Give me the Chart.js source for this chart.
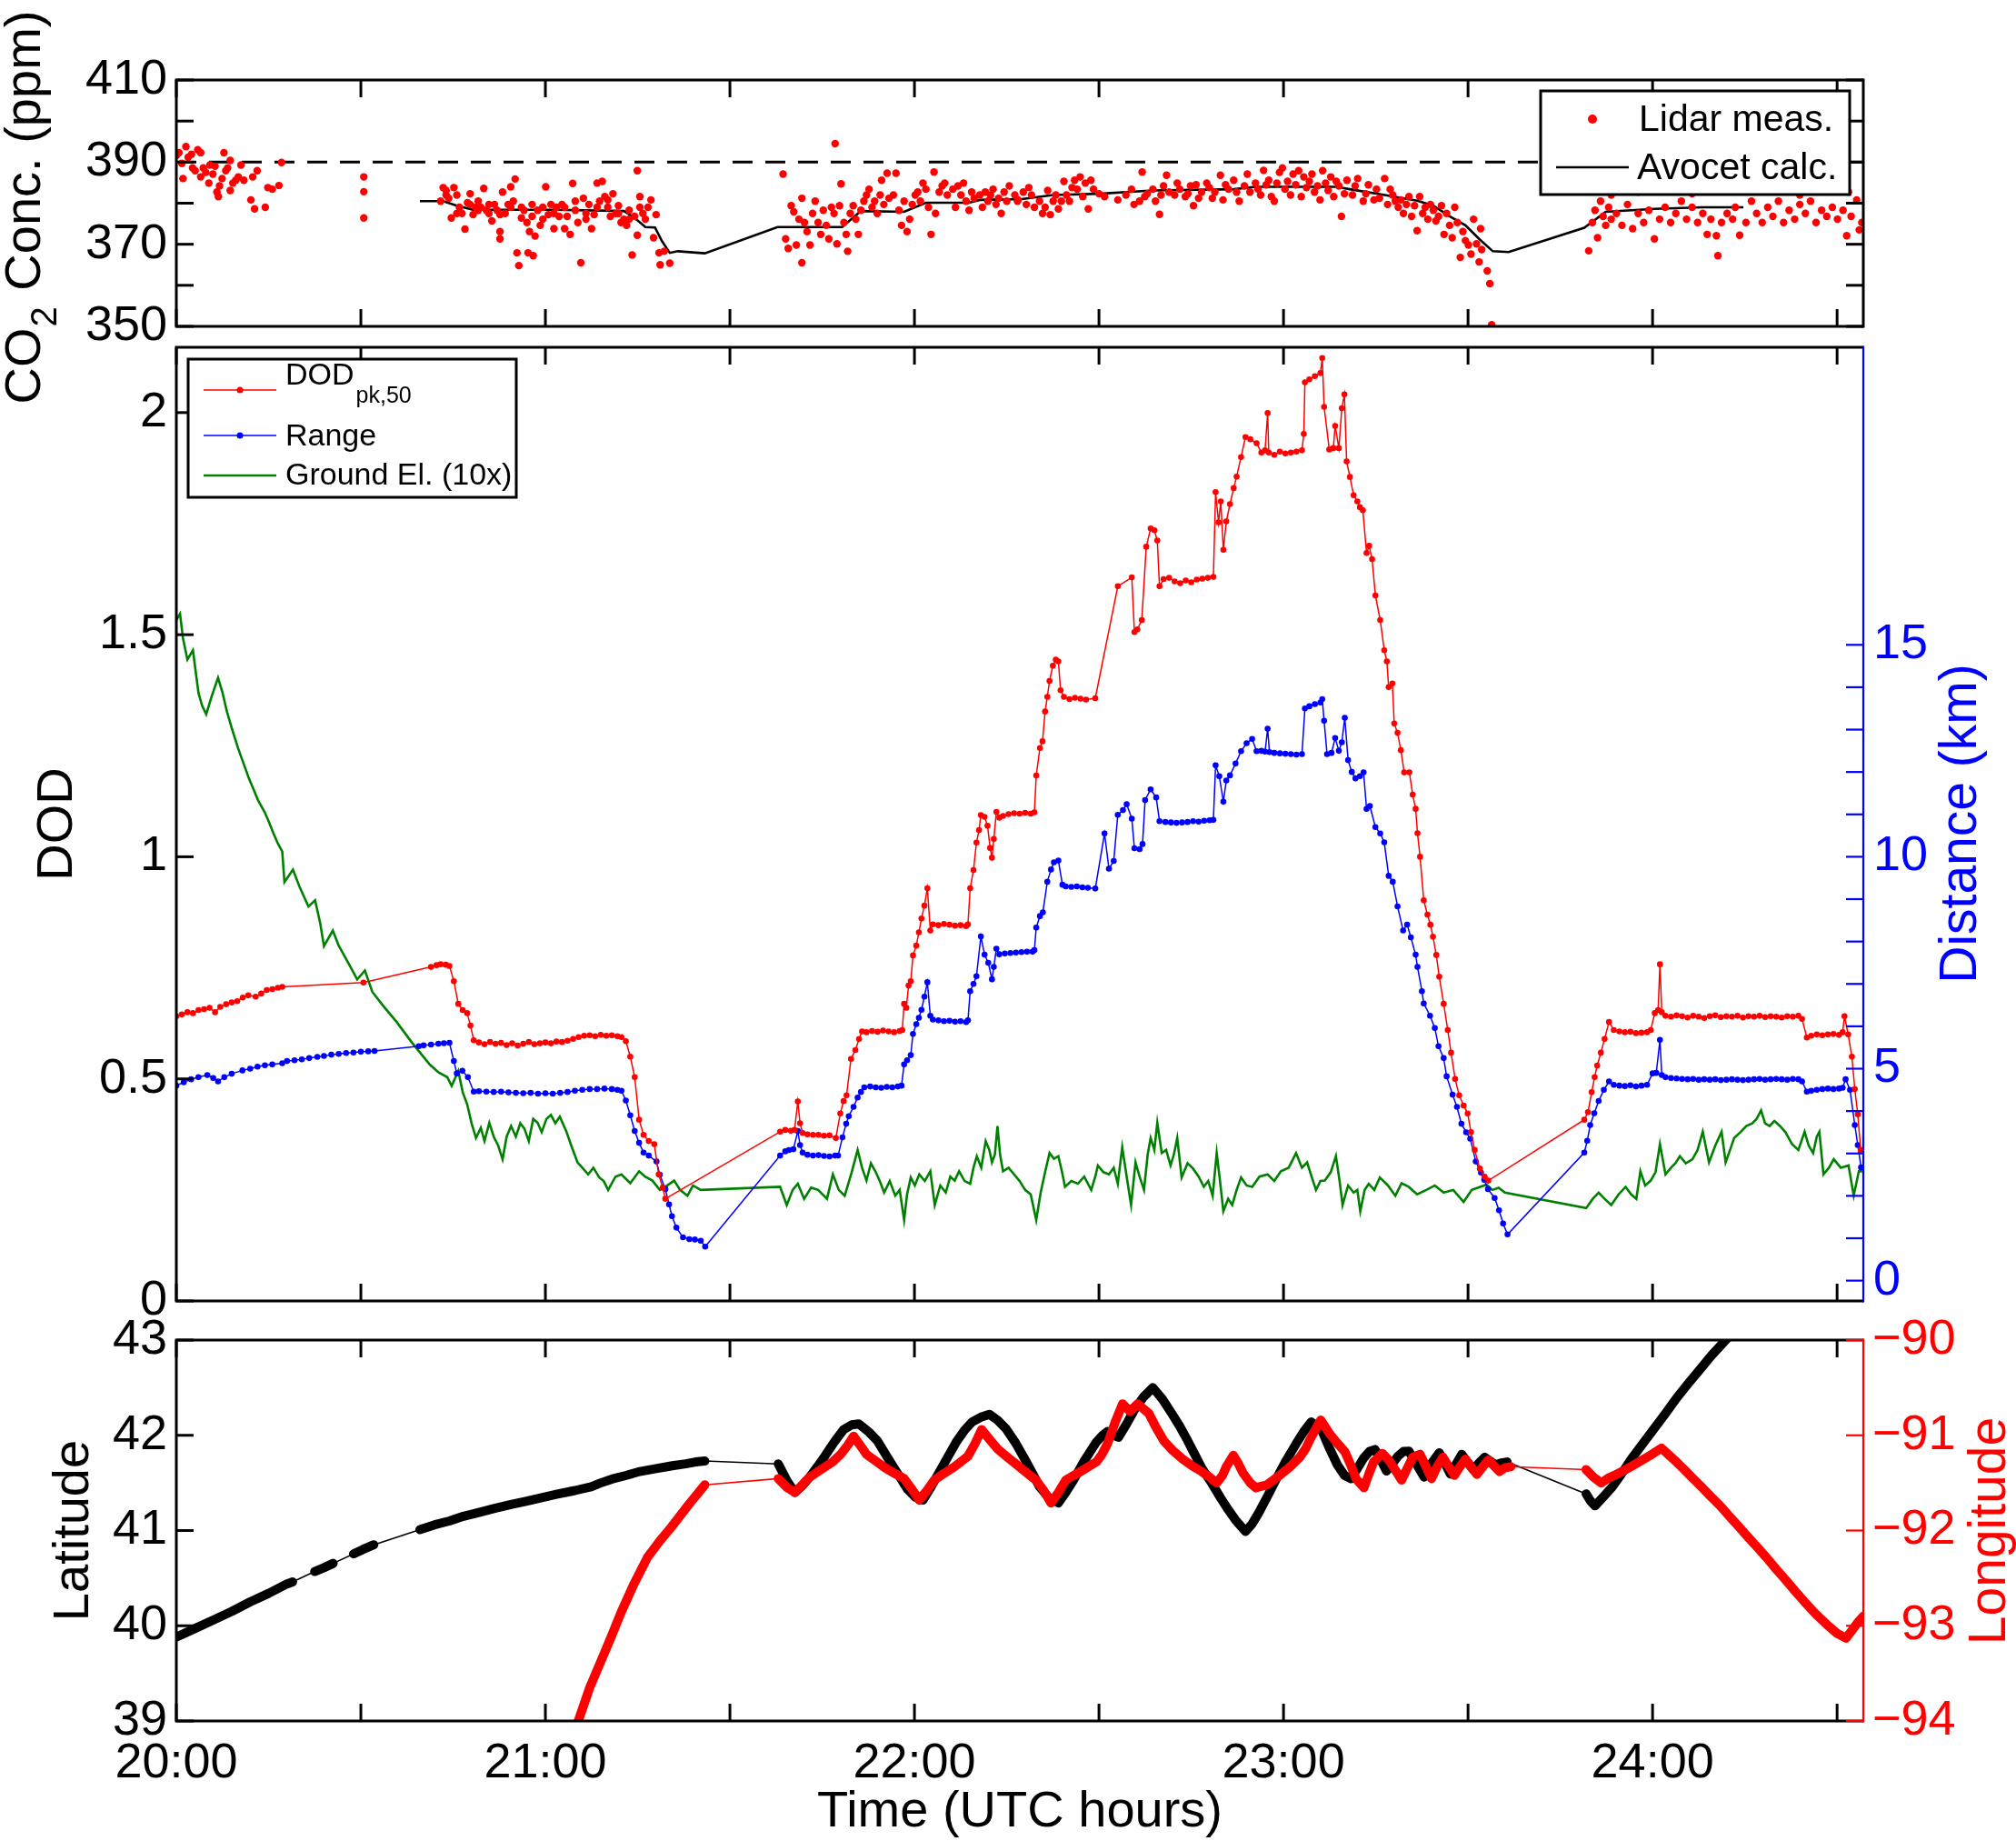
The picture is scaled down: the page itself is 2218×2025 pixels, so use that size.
<!DOCTYPE html>
<html><head><meta charset="utf-8">
<script src="https://cdn.jsdelivr.net/npm/chart.js@4/dist/chart.umd.min.js"></script>
<style>
html,body{margin:0;padding:0;background:#fff;}
#wrap{position:relative;width:2218px;height:2025px;overflow:hidden;background:#fff;}
canvas{position:absolute;left:0;top:0;width:2218px;height:2025px;}
</style></head><body>
<div id="wrap">
<canvas id="c1" width="2218" height="2025"></canvas>
<canvas id="c2" width="2218" height="2025"></canvas>
<canvas id="c3" width="2218" height="2025"></canvas>
</div>
<script>
// ---------------- axis definitions ----------------
const timeMin = 20, timeMax = 24.571;
const timeTickValues = [20, 21, 22, 23, 24];
const timeTickLabels = ['20:00', '21:00', '22:00', '23:00', '24:00'];
const timeMarks = [20, 20.5, 21, 21.5, 22, 22.5, 23, 23.5, 24, 24.5];

const co2TickValues = [350, 370, 390, 410];
const co2TickLabels = ['350', '370', '390', '410'];
const co2Marks = [350, 360, 370, 380, 390, 400, 410];
const co2Reference = 390;

const dodTickValues = [0, 0.5, 1, 1.5, 2];
const dodTickLabels = ['0', '0.5', '1', '1.5', '2'];
const kmTickValues = [0, 5, 10, 15];
const kmTickLabels = ['0', '5', '10', '15'];
const kmMarks = [0,1,2,3,4,5,6,7,8,9,10,11,12,13,14,15];

const latTickValues = [39, 40, 41, 42, 43];
const latTickLabels = ['39', '40', '41', '42', '43'];
const lonTickValues = [-94, -93, -92, -91, -90];
const lonTickLabels = ['\u221294', '\u221293', '\u221292', '\u221291', '\u221290'];

// ---------------- data: [time (UTC h), value] ----------------
const lidarCO2 = [
[20.000,391.6],[20.007,392.3],[20.015,389.7],[20.018,386.0],[20.026,393.8],[20.032,391.2],[20.041,391.9],[20.044,388.6],[20.051,387.9],[20.058,393.0],
[20.066,392.3],[20.066,386.4],[20.073,388.6],[20.080,387.5],[20.088,384.9],[20.091,389.3],[20.099,387.1],[20.105,389.0],[20.110,382.7],[20.114,381.6],
[20.117,384.2],[20.124,386.0],[20.129,392.3],[20.134,387.9],[20.139,388.6],[20.146,390.4],[20.146,383.1],[20.153,384.9],[20.161,385.6],[20.168,386.4],
[20.175,389.3],[20.183,385.6],[20.202,380.8],[20.207,386.4],[20.212,378.6],[20.219,387.9],[20.241,379.0],[20.248,383.8],[20.260,383.4],[20.278,384.3],
[20.285,389.9],[20.508,386.4],[20.508,382.8],[20.508,376.4],
[20.716,380.5],[20.723,383.8],[20.731,383.1],[20.738,381.2],[20.745,376.4],[20.752,383.8],[20.760,382.0],[20.767,379.0],[20.774,377.5],[20.782,373.7],
[20.789,380.1],[20.796,382.3],[20.804,377.2],[20.811,379.0],[20.818,380.5],[20.825,379.0],[20.833,383.6],[20.840,378.3],[20.847,377.5],[20.855,375.7],
[20.862,379.7],[20.869,378.3],[20.877,371.3],[20.877,373.1],[20.884,382.7],[20.891,377.5],[20.899,379.7],[20.906,384.0],[20.913,380.5],[20.918,385.9],
[20.923,367.9],[20.928,364.8],[20.935,376.4],[20.942,378.3],[20.950,375.3],[20.953,367.9],[20.957,373.1],[20.964,379.7],[20.967,367.2],[20.972,372.0],
[20.979,378.3],[20.986,374.6],[20.993,379.0],[21.001,384.0],[21.008,377.2],[21.015,379.7],[21.023,373.8],[21.030,379.0],[21.037,376.8],[21.045,379.7],
[21.052,373.8],[21.059,376.8],[21.067,372.4],[21.074,384.8],[21.081,378.3],[21.088,375.3],[21.096,365.5],[21.103,381.2],[21.110,377.5],[21.118,379.7],
[21.125,373.8],[21.132,377.2],[21.140,384.9],[21.147,380.5],[21.154,385.3],[21.161,381.6],[21.169,379.0],[21.176,376.8],[21.183,382.3],[21.191,377.5],
[21.198,379.4],[21.205,375.3],[21.213,376.1],[21.220,374.6],[21.227,378.3],[21.235,367.4],[21.242,376.8],[21.249,387.9],[21.249,372.2],[21.256,381.6],
[21.264,377.5],[21.271,376.1],[21.278,379.0],[21.286,380.8],[21.293,371.6],[21.300,377.2],[21.308,367.9],[21.311,365.0],[21.322,368.3],[21.337,365.4],
[20.731,382.0],[20.760,377.5],[20.796,379.7],[20.818,378.3],[20.847,379.7],[20.877,377.2],[20.906,379.0],[20.935,379.0],[20.964,376.8],[20.993,376.1],
[21.023,377.5],[21.052,379.0],[21.081,380.5],[21.110,376.1],[21.140,379.0],[21.169,380.8],[21.198,377.5],[21.227,376.1],[21.256,379.0],
[21.644,387.1],[21.651,371.3],[21.658,369.0],[21.666,379.4],[21.673,377.9],[21.680,369.8],[21.687,376.1],[21.695,381.2],[21.695,365.5],[21.702,375.3],
[21.709,373.1],[21.717,369.8],[21.724,377.5],[21.731,380.5],[21.739,375.3],[21.746,372.4],[21.753,378.3],[21.761,374.6],[21.768,371.3],[21.775,379.0],
[21.782,377.5],[21.785,394.5],[21.790,370.1],[21.797,379.4],[21.801,384.7],[21.809,375.3],[21.815,372.4],[21.819,368.3],[21.826,377.5],[21.834,379.4],
[21.841,376.1],[21.848,372.4],[21.855,378.3],[21.863,380.5],[21.870,382.0],[21.877,383.4],[21.885,379.0],[21.892,380.5],[21.899,377.5],[21.907,382.0],
[21.911,385.6],[21.917,379.7],[21.926,387.3],[21.931,381.2],[21.943,382.0],[21.950,387.3],[21.958,378.3],[21.965,374.6],[21.972,380.5],[21.980,373.1],
[21.987,376.1],[21.994,379.7],[22.002,382.0],[22.009,382.7],[22.016,380.5],[22.023,384.9],[22.031,383.4],[22.038,379.0],[22.045,372.4],[22.053,387.6],
[22.057,377.5],[22.067,382.7],[22.075,384.2],[22.082,384.9],[22.089,382.0],[22.104,383.4],[22.111,379.0],[22.118,384.2],[22.126,382.0],[22.133,384.9],
[22.140,380.5],[22.148,378.3],[22.155,382.7],[22.162,381.2],[22.177,382.0],[22.184,379.0],[22.192,382.7],[22.199,380.5],[22.206,382.0],[22.213,383.4],
[22.221,379.7],[22.228,381.2],[22.235,377.5],[22.243,382.7],[22.250,380.5],[22.257,384.2],[22.272,382.0],[22.279,380.5],
[22.281,380.8],[22.295,382.7],[22.303,379.7],[22.310,383.8],[22.317,382.0],[22.325,379.0],[22.339,380.5],[22.347,377.5],[22.354,379.0],[22.361,383.1],
[22.368,377.2],[22.376,380.5],[22.383,382.0],[22.390,378.6],[22.398,380.5],[22.405,385.3],[22.412,382.0],[22.420,380.5],[22.427,383.8],[22.434,385.6],
[22.441,383.4],[22.449,386.4],[22.456,381.6],[22.463,384.9],[22.471,378.6],[22.478,385.6],[22.485,383.4],[22.500,382.3],[22.515,381.6],[22.551,380.8],
[22.573,382.0],[22.588,383.4],[22.595,379.7],[22.610,380.5],[22.617,387.6],[22.624,381.6],[22.631,382.3],[22.646,383.4],[22.653,380.5],[22.664,377.3],
[22.668,382.0],[22.675,384.2],[22.683,386.8],[22.690,382.7],[22.705,382.0],[22.712,384.9],[22.719,383.4],[22.734,381.6],[22.741,382.3],[22.748,384.2],
[22.756,379.4],[22.763,384.5],[22.770,381.2],[22.778,382.7],[22.792,384.9],[22.799,383.8],[22.807,381.2],[22.814,382.7],[22.829,386.8],[22.836,380.8],
[22.843,384.5],[22.851,383.4],[22.865,385.6],[22.873,382.7],[22.880,380.5],[22.894,384.2],[22.902,387.1],[22.909,382.7],[22.924,384.9],[22.931,383.4],
[22.938,382.0],[22.946,388.0],[22.953,384.5],[22.960,385.6],[22.967,381.6],[22.975,380.5],[22.982,384.9],[22.989,387.5],[22.997,388.6],[23.004,383.4],
[23.011,385.3],[23.019,382.0],[23.026,387.1],[23.033,384.5],[23.041,387.9],[23.048,381.6],[23.055,386.4],[23.062,383.8],[23.070,385.3],[23.077,387.1],
[23.084,382.7],[23.092,384.2],[23.099,380.8],[23.106,387.9],[23.114,384.9],[23.121,383.1],[23.128,386.4],[23.136,381.6],[23.143,385.3],[23.150,384.2],
[23.157,376.8],[23.165,382.3],[23.172,385.6],[23.187,382.0],[23.194,384.2],[23.201,386.0],[23.216,380.5],[23.223,382.3],[23.230,384.5],[23.245,380.8],
[23.252,383.4],[23.260,381.2],[23.274,386.0],[23.282,379.7],[23.289,383.4],[23.296,382.0],[23.303,380.5],[23.311,379.0],[23.318,380.8],[23.325,377.5],
[23.333,379.7],[23.340,381.6],[23.347,376.8],[23.355,379.4],[23.362,373.3],[23.369,381.6],[23.377,377.5],[23.384,379.0],[23.391,376.1],[23.398,379.7],
[23.406,378.3],[23.413,375.7],[23.420,376.8],[23.428,379.4],[23.435,372.4],[23.442,377.5],[23.450,374.6],[23.457,371.6],[23.464,379.0],[23.471,375.3],
[23.479,366.8],[23.486,373.1],[23.493,370.9],[23.501,369.8],[23.508,367.6],[23.515,376.1],[23.523,370.1],[23.530,365.7],[23.534,373.8],[23.537,368.7],
[23.552,363.5],[23.559,360.4],[23.564,350.4],
[23.827,368.4],[23.837,375.3],[23.844,378.3],[23.851,371.6],[23.859,380.5],[23.866,376.8],[23.873,374.6],[23.881,379.0],[23.888,376.1],[23.888,382.0],
[23.902,377.5],[23.917,374.6],[23.932,379.7],[23.946,373.8],[23.961,377.5],[23.961,382.7],[23.976,375.3],[23.990,378.3],[24.005,371.3],[24.019,376.1],
[24.034,379.0],[24.049,375.3],[24.063,377.5],[24.078,380.5],[24.092,376.1],[24.107,379.0],[24.107,382.3],[24.122,375.3],[24.136,377.5],[24.148,372.4],
[24.158,376.1],[24.173,372.1],[24.177,367.2],[24.187,375.3],[24.202,377.5],[24.217,376.1],[24.224,379.0],[24.236,372.2],[24.253,375.3],[24.253,383.1],
[24.268,380.5],[24.282,377.5],[24.297,375.3],[24.312,379.0],[24.326,376.8],[24.341,380.5],[24.355,375.3],[24.370,378.3],[24.385,376.1],[24.399,379.7],
[24.399,382.0],[24.414,377.5],[24.428,380.5],[24.443,375.3],[24.458,378.3],[24.472,376.8],[24.487,379.0],[24.501,376.1],[24.516,378.3],[24.526,372.1],
[24.531,382.7],[24.538,376.8],[24.553,380.8],[24.560,373.5],[24.567,375.3]
];

const avocetCO2 = [
[20.660,380.5],[20.723,380.5],[20.760,379.4],[20.804,378.4],[21.023,378.4],[21.213,378.1],[21.242,376.4],[21.271,374.2],[21.297,374.1],[21.315,370.9],
[21.337,367.9],[21.359,368.3],[21.432,367.8],[21.629,374.2],[21.804,374.2],[21.855,378.1],[21.972,377.9],[22.031,380.1],[22.148,380.1],[22.177,380.8],
[22.291,381.0],[22.376,382.0],[22.500,382.3],[22.646,383.1],[22.865,383.4],[22.924,384.0],[23.143,384.0],[23.187,383.3],[23.274,382.0],[23.362,380.6],
[23.406,379.4],[23.450,376.8],[23.493,374.6],[23.530,371.3],[23.567,368.3],[23.610,368.1],[23.815,374.0],[23.873,377.9],[24.005,378.6],[24.136,379.0],
[24.246,379.0]
];

const dodPk50 = [
[20.000,0.641],[20.015,0.645],[20.030,0.650],[20.045,0.648],[20.060,0.655],[20.075,0.657],[20.090,0.660],[20.105,0.650],[20.119,0.662],[20.135,0.668],
[20.150,0.672],[20.165,0.675],[20.180,0.683],[20.195,0.688],[20.215,0.685],[20.230,0.692],[20.245,0.700],[20.260,0.702],[20.275,0.705],[20.287,0.707],
[20.507,0.717],[20.690,0.752],[20.705,0.756],[20.716,0.758],[20.730,0.757],[20.740,0.754],[20.752,0.720],[20.764,0.669],[20.776,0.655],[20.788,0.648],
[20.797,0.620],[20.806,0.587],[20.820,0.582],[20.835,0.578],[20.850,0.583],[20.865,0.579],[20.880,0.581],[20.895,0.576],[20.910,0.580],[20.925,0.575],
[20.940,0.579],[20.955,0.583],[20.970,0.578],[20.985,0.580],[21.000,0.582],[21.015,0.580],[21.030,0.584],[21.045,0.583],[21.060,0.586],[21.075,0.590],
[21.090,0.594],[21.105,0.597],[21.120,0.598],[21.135,0.596],[21.150,0.599],[21.165,0.597],[21.180,0.598],[21.195,0.596],[21.206,0.594],[21.218,0.585],
[21.230,0.550],[21.242,0.504],[21.254,0.408],[21.266,0.374],[21.280,0.360],[21.295,0.353],[21.307,0.285],[21.318,0.255],[21.325,0.230],
[21.636,0.381],[21.650,0.385],[21.665,0.383],[21.675,0.385],[21.684,0.449],[21.690,0.400],[21.697,0.378],[21.710,0.375],[21.725,0.374],[21.740,0.374],
[21.755,0.372],[21.770,0.373],[21.787,0.367],[21.799,0.422],[21.808,0.450],[21.816,0.463],[21.828,0.545],[21.840,0.565],[21.850,0.590],[21.858,0.607],
[21.870,0.605],[21.885,0.608],[21.900,0.606],[21.915,0.609],[21.930,0.607],[21.945,0.605],[21.960,0.608],[21.967,0.610],[21.972,0.669],[21.978,0.660],
[21.984,0.710],[21.990,0.720],[21.996,0.778],[22.005,0.800],[22.012,0.830],[22.019,0.861],[22.027,0.890],[22.035,0.929],[22.043,0.834],[22.050,0.848],
[22.065,0.846],[22.080,0.849],[22.095,0.847],[22.110,0.845],[22.125,0.846],[22.140,0.844],[22.145,0.848],[22.151,0.929],[22.160,0.970],[22.168,1.032],
[22.175,1.060],[22.180,1.094],[22.190,1.090],[22.198,1.070],[22.205,1.020],[22.210,0.998],[22.215,1.040],[22.222,1.101],[22.230,1.088],[22.240,1.092],
[22.255,1.096],[22.270,1.098],[22.285,1.097],[22.300,1.099],[22.315,1.097],[22.325,1.100],[22.330,1.183],[22.340,1.245],[22.347,1.260],[22.354,1.327],
[22.360,1.360],[22.366,1.396],[22.375,1.430],[22.383,1.444],[22.390,1.440],[22.396,1.375],[22.405,1.360],[22.420,1.355],[22.435,1.358],[22.450,1.356],
[22.465,1.354],[22.490,1.357],
[22.551,1.609],[22.589,1.629],[22.596,1.506],[22.604,1.512],[22.616,1.533],[22.628,1.698],[22.640,1.739],[22.650,1.735],[22.658,1.712],[22.664,1.609],
[22.675,1.625],[22.690,1.628],[22.705,1.620],[22.720,1.616],[22.735,1.622],[22.750,1.618],[22.765,1.624],[22.780,1.626],[22.795,1.628],[22.810,1.630],
[22.816,1.821],[22.824,1.753],[22.830,1.800],[22.837,1.691],[22.845,1.755],[22.855,1.794],[22.865,1.830],[22.873,1.856],[22.885,1.900],[22.897,1.945],
[22.910,1.940],[22.927,1.931],[22.940,1.910],[22.950,1.915],[22.957,1.999],[22.960,1.910],[22.975,1.905],[22.990,1.912],[23.005,1.908],[23.020,1.910],
[23.035,1.912],[23.050,1.915],[23.055,1.952],[23.058,2.068],[23.070,2.075],[23.085,2.082],[23.100,2.089],[23.105,2.123],[23.110,2.013],[23.124,1.917],
[23.135,1.920],[23.140,1.970],[23.150,1.920],[23.158,2.010],[23.165,2.041],[23.171,1.890],[23.180,1.855],[23.190,1.814],[23.200,1.800],[23.207,1.787],
[23.215,1.780],[23.225,1.684],[23.232,1.700],[23.240,1.670],[23.249,1.588],[23.262,1.533],[23.273,1.465],[23.280,1.440],[23.285,1.382],[23.295,1.390],
[23.300,1.300],[23.309,1.279],[23.318,1.240],[23.327,1.190],[23.341,1.190],[23.350,1.140],[23.358,1.108],[23.363,1.053],[23.370,1.000],[23.380,0.902],
[23.390,0.870],[23.398,0.847],[23.405,0.820],[23.414,0.779],[23.422,0.730],[23.434,0.669],[23.445,0.610],[23.454,0.559],[23.465,0.500],[23.476,0.463],
[23.488,0.440],[23.499,0.422],[23.508,0.380],[23.518,0.340],[23.532,0.298],[23.545,0.280],[23.555,0.271],
[23.815,0.408],[23.825,0.425],[23.835,0.470],[23.843,0.504],[23.850,0.530],[23.860,0.559],[23.870,0.590],[23.882,0.628],[23.895,0.610],[23.910,0.607],
[23.925,0.605],[23.940,0.606],[23.955,0.603],[23.970,0.604],[23.985,0.605],[23.995,0.610],[24.006,0.648],[24.015,0.655],[24.020,0.758],[24.025,0.650],
[24.035,0.642],[24.050,0.640],[24.065,0.643],[24.080,0.641],[24.095,0.638],[24.110,0.642],[24.125,0.640],[24.140,0.637],[24.155,0.641],[24.170,0.643],
[24.185,0.639],[24.200,0.641],[24.215,0.640],[24.230,0.642],[24.245,0.638],[24.260,0.641],[24.275,0.640],[24.290,0.642],[24.305,0.639],[24.320,0.641],
[24.335,0.640],[24.350,0.638],[24.365,0.641],[24.380,0.640],[24.395,0.642],[24.405,0.635],[24.418,0.593],[24.430,0.597],[24.445,0.600],[24.460,0.598],
[24.475,0.600],[24.490,0.601],[24.505,0.599],[24.515,0.605],[24.520,0.641],[24.530,0.600],[24.540,0.550],[24.548,0.477],[24.556,0.420],[24.564,0.340]
];

const rangeKm = [
[20.000,4.60],[20.020,4.68],[20.040,4.75],[20.060,4.80],[20.084,4.85],[20.100,4.78],[20.113,4.70],[20.130,4.80],[20.150,4.88],[20.179,4.96],
[20.200,5.00],[20.220,5.05],[20.240,5.08],[20.260,5.10],[20.287,5.13],[20.300,5.18],[20.320,5.20],[20.340,5.22],[20.360,5.25],[20.382,5.28],
[20.400,5.30],[20.420,5.33],[20.440,5.35],[20.460,5.37],[20.480,5.38],[20.500,5.40],[20.520,5.41],[20.537,5.42],
[20.657,5.53],[20.670,5.55],[20.690,5.57],[20.710,5.59],[20.725,5.60],[20.740,5.61],[20.752,5.18],[20.760,4.89],[20.775,4.95],[20.790,4.80],
[20.806,4.46],[20.820,4.47],[20.840,4.46],[20.860,4.45],[20.880,4.46],[20.900,4.44],[20.920,4.43],[20.940,4.42],[20.960,4.43],[20.980,4.41],
[21.000,4.42],[21.020,4.41],[21.040,4.43],[21.060,4.45],[21.080,4.48],[21.100,4.50],[21.120,4.52],[21.140,4.52],[21.160,4.53],[21.180,4.52],
[21.195,4.50],[21.206,4.48],[21.218,4.25],[21.230,3.90],[21.242,3.53],[21.254,3.25],[21.266,3.02],[21.280,2.95],[21.301,2.81],[21.310,2.50],
[21.325,2.16],[21.335,1.80],[21.343,1.52],[21.355,1.25],[21.373,1.02],[21.390,0.98],[21.405,0.97],[21.421,0.94],[21.433,0.80],
[21.636,2.95],[21.650,3.05],[21.660,3.08],[21.672,3.10],[21.684,3.53],[21.690,3.20],[21.697,3.02],[21.710,2.97],[21.725,2.95],[21.740,2.96],
[21.755,2.94],[21.770,2.93],[21.785,2.95],[21.793,2.95],[21.805,3.38],[21.815,3.70],[21.822,3.88],[21.835,4.10],[21.846,4.32],[21.855,4.45],
[21.864,4.56],[21.880,4.58],[21.895,4.56],[21.910,4.55],[21.925,4.57],[21.940,4.56],[21.955,4.58],[21.965,4.60],[21.972,5.10],[21.980,5.20],
[21.990,5.32],[21.996,5.82],[22.005,6.05],[22.012,6.20],[22.019,6.39],[22.027,6.70],[22.035,7.04],[22.043,6.25],[22.050,6.16],[22.065,6.14],
[22.080,6.12],[22.095,6.13],[22.110,6.11],[22.125,6.12],[22.140,6.10],[22.145,6.14],[22.151,6.83],[22.160,7.00],[22.168,7.18],[22.180,8.12],
[22.190,7.69],[22.200,7.50],[22.210,7.11],[22.215,7.40],[22.222,7.83],[22.230,7.70],[22.245,7.72],[22.260,7.73],[22.275,7.74],[22.290,7.75],
[22.305,7.76],[22.320,7.76],[22.325,7.80],[22.330,8.33],[22.340,8.60],[22.348,8.69],[22.360,9.41],[22.370,9.70],[22.378,9.87],[22.390,9.91],
[22.401,9.34],[22.410,9.30],[22.425,9.29],[22.440,9.30],[22.455,9.28],[22.470,9.27],[22.490,9.25],
[22.515,10.55],[22.527,9.72],[22.540,9.90],[22.551,10.99],[22.565,11.10],[22.575,11.24],[22.589,10.90],[22.596,10.20],[22.610,10.18],[22.618,10.30],
[22.625,11.34],[22.640,11.59],[22.655,11.40],[22.664,10.84],[22.680,10.82],[22.695,10.81],[22.710,10.80],[22.725,10.81],[22.740,10.82],[22.755,10.84],
[22.770,10.83],[22.785,10.85],[22.800,10.86],[22.810,10.87],[22.816,12.16],[22.826,11.90],[22.837,11.30],[22.845,11.80],[22.855,11.92],[22.870,12.20],
[22.885,12.49],[22.900,12.68],[22.915,12.78],[22.927,12.49],[22.940,12.50],[22.950,12.48],[22.957,13.02],[22.962,12.47],[22.975,12.45],[22.990,12.44],
[23.005,12.43],[23.020,12.42],[23.035,12.41],[23.050,12.42],[23.058,13.50],[23.070,13.55],[23.085,13.60],[23.100,13.64],[23.105,13.72],[23.110,13.21],
[23.118,12.42],[23.130,12.45],[23.140,12.80],[23.150,12.50],[23.158,12.70],[23.166,13.28],[23.175,12.28],[23.185,12.00],[23.195,11.85],[23.207,11.90],
[23.217,11.99],[23.225,11.13],[23.234,11.20],[23.249,10.70],[23.262,10.55],[23.273,10.34],[23.285,9.55],[23.296,9.41],[23.309,8.83],[23.324,8.26],
[23.335,8.40],[23.345,8.10],[23.358,7.69],[23.363,7.40],[23.375,6.83],[23.380,6.54],[23.397,6.25],[23.410,5.96],[23.420,5.53],[23.434,5.25],
[23.442,4.82],[23.458,4.39],[23.470,4.10],[23.482,3.70],[23.495,3.50],[23.506,3.35],[23.521,2.81],[23.535,2.55],[23.544,2.38],[23.554,2.16],
[23.572,1.95],[23.584,1.66],[23.595,1.35],[23.607,1.09],
[23.815,3.02],[23.823,3.30],[23.831,3.67],[23.842,3.95],[23.854,4.24],[23.868,4.50],[23.882,4.70],[23.895,4.62],[23.910,4.60],[23.925,4.59],
[23.940,4.61],[23.955,4.58],[23.970,4.60],[23.985,4.62],[24.000,4.89],[24.010,4.90],[24.020,5.68],[24.025,4.85],[24.035,4.80],[24.050,4.78],
[24.065,4.77],[24.080,4.76],[24.095,4.75],[24.110,4.76],[24.125,4.74],[24.140,4.75],[24.155,4.74],[24.170,4.75],[24.185,4.73],[24.200,4.74],
[24.215,4.75],[24.230,4.74],[24.245,4.73],[24.260,4.74],[24.275,4.75],[24.290,4.76],[24.305,4.74],[24.320,4.75],[24.335,4.76],[24.350,4.75],
[24.365,4.74],[24.380,4.76],[24.395,4.75],[24.405,4.70],[24.418,4.46],[24.430,4.48],[24.445,4.50],[24.460,4.52],[24.475,4.53],[24.490,4.52],
[24.505,4.53],[24.515,4.55],[24.523,4.75],[24.535,4.50],[24.548,3.67],[24.556,3.20],[24.565,2.67]
];

const groundElev10x = [
[20.000,1.533],[20.010,1.547],[20.018,1.492],[20.030,1.444],[20.045,1.465],[20.060,1.369],[20.070,1.340],[20.081,1.321],[20.096,1.362],[20.113,1.403],
[20.125,1.370],[20.137,1.327],[20.150,1.290],[20.167,1.245],[20.180,1.215],[20.197,1.176],[20.210,1.150],[20.221,1.128],[20.239,1.101],[20.250,1.080],
[20.263,1.053],[20.275,1.030],[20.287,1.012],[20.293,0.943],[20.316,0.971],[20.335,0.930],[20.358,0.888],[20.376,0.902],[20.390,0.850],[20.400,0.799],
[20.424,0.834],[20.440,0.800],[20.454,0.779],[20.470,0.755],[20.490,0.724],[20.511,0.744],[20.531,0.696],[20.560,0.665],[20.597,0.628],[20.640,0.580],
[20.687,0.532],[20.710,0.515],[20.734,0.504],[20.746,0.484],[20.764,0.518],[20.776,0.470],[20.788,0.443],[20.800,0.400],[20.812,0.367],[20.825,0.390],
[20.835,0.360],[20.848,0.401],[20.860,0.370],[20.872,0.350],[20.884,0.319],[20.895,0.370],[20.907,0.394],[20.920,0.370],[20.932,0.400],[20.943,0.388],
[20.955,0.360],[20.967,0.410],[20.979,0.401],[20.990,0.380],[21.003,0.410],[21.015,0.419],[21.027,0.400],[21.039,0.415],[21.057,0.381],[21.070,0.350],
[21.087,0.312],[21.100,0.300],[21.116,0.285],[21.130,0.300],[21.146,0.278],[21.158,0.270],[21.170,0.250],[21.190,0.280],[21.206,0.285],[21.230,0.265],
[21.254,0.292],[21.270,0.280],[21.290,0.271],[21.310,0.250],[21.325,0.257],[21.349,0.271],[21.365,0.250],[21.385,0.237],[21.400,0.260],[21.421,0.250],
[21.636,0.257],[21.654,0.216],[21.670,0.250],[21.684,0.264],[21.701,0.230],[21.720,0.255],[21.739,0.250],[21.763,0.230],[21.779,0.285],[21.795,0.250],
[21.811,0.237],[21.830,0.290],[21.846,0.340],[21.858,0.300],[21.870,0.271],[21.882,0.310],[21.894,0.292],[21.906,0.270],[21.918,0.244],[21.933,0.270],
[21.948,0.237],[21.960,0.250],[21.972,0.182],[21.980,0.240],[21.990,0.278],[22.001,0.260],[22.013,0.285],[22.028,0.270],[22.043,0.292],[22.055,0.216],
[22.070,0.260],[22.085,0.244],[22.097,0.280],[22.109,0.271],[22.121,0.292],[22.136,0.270],[22.151,0.264],[22.160,0.300],[22.169,0.326],[22.181,0.300],
[22.193,0.360],[22.203,0.340],[22.210,0.312],[22.218,0.330],[22.225,0.394],[22.232,0.330],[22.240,0.292],[22.255,0.300],[22.270,0.285],[22.285,0.270],
[22.300,0.250],[22.315,0.240],[22.330,0.182],[22.342,0.244],[22.354,0.290],[22.366,0.333],[22.378,0.320],[22.390,0.326],[22.400,0.290],[22.408,0.257],
[22.425,0.270],[22.443,0.264],[22.460,0.280],[22.479,0.250],[22.490,0.280],[22.497,0.305],[22.512,0.290],[22.527,0.285],[22.540,0.300],[22.551,0.264],
[22.563,0.346],[22.575,0.280],[22.587,0.216],[22.599,0.312],[22.610,0.280],[22.622,0.250],[22.632,0.330],[22.640,0.367],[22.650,0.340],[22.658,0.401],
[22.670,0.333],[22.682,0.340],[22.694,0.305],[22.703,0.330],[22.712,0.367],[22.724,0.278],[22.740,0.310],[22.754,0.299],[22.770,0.280],[22.784,0.257],
[22.796,0.270],[22.808,0.237],[22.819,0.333],[22.828,0.270],[22.837,0.202],[22.850,0.230],[22.861,0.216],[22.873,0.250],[22.885,0.278],[22.900,0.260],
[22.915,0.257],[22.935,0.280],[22.957,0.285],[22.975,0.270],[22.993,0.292],[23.014,0.300],[23.034,0.333],[23.050,0.300],[23.064,0.312],[23.076,0.280],
[23.088,0.250],[23.100,0.270],[23.112,0.271],[23.128,0.290],[23.142,0.326],[23.152,0.270],[23.160,0.216],[23.175,0.260],[23.190,0.244],[23.200,0.250],
[23.208,0.202],[23.220,0.250],[23.231,0.264],[23.246,0.250],[23.261,0.278],[23.283,0.260],[23.303,0.237],[23.320,0.265],[23.339,0.257],[23.362,0.240],
[23.387,0.250],[23.410,0.260],[23.434,0.244],[23.460,0.250],[23.488,0.223],[23.510,0.250],[23.533,0.257],[23.550,0.262],[23.566,0.250],[23.583,0.255],
[23.600,0.244],
[23.820,0.209],[23.838,0.230],[23.854,0.244],[23.870,0.230],[23.888,0.216],[23.908,0.240],[23.927,0.257],[23.942,0.240],[23.956,0.230],[23.967,0.292],
[23.980,0.260],[23.995,0.271],[24.008,0.290],[24.020,0.353],[24.035,0.285],[24.050,0.300],[24.062,0.310],[24.074,0.326],[24.090,0.310],[24.108,0.319],
[24.122,0.340],[24.136,0.381],[24.153,0.312],[24.170,0.350],[24.187,0.381],[24.198,0.312],[24.210,0.340],[24.221,0.367],[24.238,0.380],[24.254,0.394],
[24.270,0.400],[24.282,0.410],[24.294,0.429],[24.305,0.400],[24.317,0.394],[24.330,0.405],[24.345,0.394],[24.360,0.380],[24.378,0.353],[24.395,0.340],
[24.412,0.381],[24.423,0.350],[24.435,0.333],[24.445,0.370],[24.452,0.381],[24.463,0.285],[24.478,0.300],[24.491,0.319],[24.510,0.300],[24.531,0.305],
[24.545,0.237],[24.559,0.292],[24.568,0.292]
];

const latitudeDeg = [
[20.000,39.88],[20.050,39.97],[20.100,40.06],[20.150,40.15],[20.200,40.25],[20.250,40.34],[20.300,40.44],[20.315,40.46],[20.375,40.57],[20.400,40.61],
[20.425,40.655],[20.480,40.755],[20.505,40.80],[20.535,40.85],[20.660,41.01],[20.700,41.06],[20.740,41.10],[20.778,41.15],[20.820,41.19],[20.860,41.23],
[20.904,41.27],[20.950,41.31],[20.990,41.345],[21.030,41.38],[21.080,41.42],[21.124,41.46],[21.150,41.50],[21.180,41.54],[21.220,41.58],[21.256,41.62],
[21.300,41.65],[21.344,41.68],[21.380,41.70],[21.407,41.72],[21.432,41.73],
[21.631,41.70],[21.655,41.52],[21.676,41.40],[21.696,41.47],[21.716,41.56],[21.737,41.67],[21.757,41.78],[21.783,41.93],[21.808,42.06],[21.830,42.11],
[21.849,42.12],[21.875,42.04],[21.900,41.94],[21.925,41.78],[21.951,41.62],[21.982,41.43],[22.003,41.35],[22.023,41.32],[22.044,41.45],[22.064,41.59],
[22.090,41.77],[22.115,41.94],[22.135,42.05],[22.156,42.14],[22.180,42.19],[22.203,42.22],[22.225,42.16],[22.248,42.07],[22.274,41.92],[22.299,41.75],
[22.320,41.60],[22.339,41.46],[22.365,41.34],[22.390,41.29],[22.410,41.40],[22.431,41.53],[22.460,41.73],[22.493,41.93],[22.510,42.00],[22.523,42.04],
[22.540,42.00],[22.553,41.98],[22.575,42.12],[22.595,42.26],[22.620,42.40],[22.646,42.50],[22.672,42.38],[22.697,42.23],[22.718,42.10],[22.738,41.96],
[22.758,41.81],[22.778,41.66],[22.805,41.50],[22.830,41.34],[22.850,41.22],[22.870,41.11],[22.897,40.99],[22.915,41.07],[22.932,41.18],[22.958,41.37],
[22.983,41.56],[23.008,41.74],[23.034,41.91],[23.055,42.04],[23.075,42.14],[23.090,42.10],[23.105,42.04],[23.125,41.86],[23.146,41.69],[23.165,41.58],
[23.183,41.545],[23.200,41.65],[23.217,41.76],[23.233,41.83],[23.248,41.85],[23.264,41.74],[23.279,41.625],[23.295,41.70],[23.310,41.78],[23.325,41.83],
[23.340,41.833],[23.360,41.70],[23.381,41.561],[23.400,41.70],[23.422,41.817],[23.437,41.71],[23.452,41.593],[23.468,41.70],[23.483,41.80],[23.498,41.72],
[23.514,41.641],[23.530,41.71],[23.545,41.769],[23.560,41.73],[23.575,41.689],[23.590,41.71],[23.606,41.72],
[23.820,41.385],[23.832,41.31],[23.844,41.26],[23.868,41.36],[23.891,41.46],[23.917,41.60],[23.942,41.75],[23.973,41.91],[24.004,42.07],[24.035,42.23],
[24.065,42.39],[24.096,42.54],[24.126,42.68],[24.160,42.84],[24.198,43.00],[24.240,43.17]
];

const longitudeDeg = [
[21.090,-93.99],[21.120,-93.65],[21.154,-93.34],[21.180,-93.10],[21.204,-92.87],[21.240,-92.56],[21.277,-92.28],[21.310,-92.11],[21.340,-91.97],[21.390,-91.72],
[21.432,-91.52],
[21.631,-91.455],[21.655,-91.55],[21.676,-91.60],[21.696,-91.52],[21.716,-91.44],[21.747,-91.36],[21.778,-91.28],[21.800,-91.20],[21.820,-91.10],[21.835,-91.01],
[21.852,-91.10],[21.870,-91.20],[21.895,-91.27],[21.920,-91.34],[21.946,-91.40],[21.972,-91.455],[21.992,-91.56],[22.013,-91.68],[22.034,-91.58],[22.054,-91.47],
[22.080,-91.40],[22.105,-91.34],[22.125,-91.28],[22.145,-91.22],[22.165,-91.08],[22.182,-90.94],[22.205,-91.05],[22.227,-91.15],[22.252,-91.23],[22.278,-91.31],
[22.303,-91.39],[22.329,-91.47],[22.350,-91.58],[22.370,-91.71],[22.390,-91.60],[22.410,-91.47],[22.450,-91.38],[22.493,-91.28],[22.508,-91.20],[22.523,-91.09],
[22.545,-90.85],[22.564,-90.67],[22.584,-90.75],[22.605,-90.67],[22.620,-90.72],[22.635,-90.77],[22.655,-90.92],[22.676,-91.06],[22.700,-91.16],[22.727,-91.25],
[22.752,-91.32],[22.778,-91.38],[22.800,-91.44],[22.819,-91.50],[22.835,-91.42],[22.845,-91.33],[22.864,-91.21],[22.878,-91.30],[22.891,-91.40],[22.910,-91.50],
[22.925,-91.55],[22.955,-91.52],[22.983,-91.44],[23.015,-91.34],[23.044,-91.23],[23.060,-91.14],[23.075,-91.02],[23.101,-90.84],[23.126,-90.99],[23.145,-91.08],
[23.166,-91.17],[23.183,-91.32],[23.197,-91.46],[23.218,-91.55],[23.232,-91.40],[23.244,-91.28],[23.268,-91.19],[23.285,-91.26],[23.299,-91.34],[23.320,-91.47],
[23.335,-91.35],[23.350,-91.23],[23.370,-91.20],[23.385,-91.32],[23.401,-91.455],[23.416,-91.33],[23.432,-91.23],[23.448,-91.33],[23.463,-91.42],[23.478,-91.33],
[23.493,-91.25],[23.508,-91.33],[23.524,-91.41],[23.540,-91.33],[23.555,-91.26],[23.570,-91.32],[23.585,-91.38],[23.600,-91.34],[23.616,-91.33],
[23.820,-91.36],[23.840,-91.44],[23.861,-91.50],[23.880,-91.45],[23.902,-91.41],[23.932,-91.35],[23.963,-91.28],[23.994,-91.21],[24.024,-91.135],[24.045,-91.21],
[24.065,-91.28],[24.086,-91.36],[24.106,-91.44],[24.132,-91.54],[24.157,-91.64],[24.183,-91.74],[24.208,-91.85],[24.234,-91.96],[24.259,-92.07],[24.285,-92.18],
[24.310,-92.29],[24.336,-92.41],[24.361,-92.52],[24.387,-92.64],[24.412,-92.75],[24.443,-92.88],[24.473,-92.99],[24.500,-93.08],[24.524,-93.13],[24.540,-93.05],
[24.555,-92.97],[24.571,-92.90]
];

// ---------------- helpers ----------------
const FAM = "'Liberation Sans', Arial, Helvetica, sans-serif";
Chart.defaults.font.family = FAM;
Chart.defaults.color = '#000';

function pts(arr) { return arr.map(p => ({x: p[0], y: p[1]})); }
function fixedTicks(values) { return scale => { scale.ticks = values.map(v => ({value: v})); }; }
function labelFrom(values, labels) { return v => { const i = values.indexOf(v); return i < 0 ? '' : labels[i]; }; }
function seg(ctx, x1, y1, x2, y2) { ctx.beginPath(); ctx.moveTo(x1, y1); ctx.lineTo(x2, y2); ctx.stroke(); }

function makeFrame(cfg) {
  return {
    id: 'frame',
    afterDatasetsDraw(chart) {
      const {ctx, chartArea: a, scales} = chart;
      const L = 19;
      ctx.save();
      ctx.lineWidth = 3; ctx.lineCap = 'butt';
      ctx.strokeStyle = '#000';
      for (const v of cfg.xMarks) {
        const px = scales.x.getPixelForValue(v);
        seg(ctx, px, a.bottom, px, a.bottom - L);
        seg(ctx, px, a.top, px, a.top + L);
      }
      for (const v of cfg.yMarks) {
        const py = scales.y.getPixelForValue(v);
        seg(ctx, a.left, py, a.left + L, py);
        if (cfg.mirrorY) seg(ctx, a.right, py, a.right - L, py);
      }
      ctx.lineJoin = 'miter';
      ctx.beginPath();
      ctx.moveTo(a.right, a.top); ctx.lineTo(a.left, a.top); ctx.lineTo(a.left, a.bottom); ctx.lineTo(a.right, a.bottom);
      ctx.stroke();
      if (cfg.y2Marks) {
        ctx.strokeStyle = cfg.rightColor; ctx.lineWidth = 2.2;
        for (const v of cfg.y2Marks) {
          const py = scales.y2.getPixelForValue(v);
          seg(ctx, a.right, py, a.right - L, py);
        }
        seg(ctx, a.right, a.top - 1.5, a.right, a.bottom + 1.5);
      } else {
        ctx.strokeStyle = '#000'; ctx.lineWidth = 3;
        seg(ctx, a.right, a.top - 1.5, a.right, a.bottom + 1.5);
      }
      ctx.restore();
    }
  };
}

function makeLegend(cfg) {
  return {
    id: 'boxLegend',
    afterDraw(chart) {
      const ctx = chart.ctx;
      ctx.save();
      const b = cfg.box;
      ctx.fillStyle = '#fff'; ctx.fillRect(b.x, b.y, b.w, b.h);
      ctx.lineWidth = 3; ctx.strokeStyle = '#000'; ctx.strokeRect(b.x, b.y, b.w, b.h);
      for (const it of cfg.items) {
        if (it.line) { ctx.strokeStyle = it.color; ctx.lineWidth = it.lineWidth; seg(ctx, it.line[0], it.y, it.line[1], it.y); }
        if (it.dot) { ctx.fillStyle = it.color; ctx.beginPath(); ctx.arc(it.dot, it.y, it.r, 0, Math.PI * 2); ctx.fill(); }
        ctx.fillStyle = '#000'; ctx.textBaseline = 'middle'; ctx.textAlign = 'left';
        ctx.font = it.size + 'px ' + FAM;
        ctx.fillText(it.text, it.tx, it.ty);
        if (it.sub) {
          const w = ctx.measureText(it.text).width;
          ctx.font = it.subSize + 'px ' + FAM;
          ctx.fillText(it.sub, it.tx + w + 2, it.subY);
        }
      }
      ctx.restore();
    }
  };
}

// vertical titles reading bottom-to-top (optionally with a subscript part)
function makeVTitles(list) {
  return {
    id: 'vTitles',
    afterDraw(chart) {
      const ctx = chart.ctx;
      for (const cfg of list) {
        ctx.save();
        ctx.translate(cfg.x, cfg.y);
        ctx.rotate(-Math.PI / 2);
        ctx.fillStyle = cfg.color || '#000';
        ctx.textBaseline = 'alphabetic'; ctx.textAlign = 'left';
        const big = cfg.size + 'px ' + FAM, small = (cfg.subSize || cfg.size) + 'px ' + FAM;
        const sub = cfg.sub || '', rest = cfg.rest || '';
        ctx.font = big; const w1 = ctx.measureText(cfg.main).width; const w3 = ctx.measureText(rest).width;
        ctx.font = small; const w2 = sub ? ctx.measureText(sub).width + 3 : 0;
        let x = -(w1 + w2 + w3) / 2;
        ctx.font = big; ctx.fillText(cfg.main, x, 0); x += w1;
        if (sub) { ctx.font = small; ctx.fillText(sub, x + 1, cfg.subDrop); x += w2; }
        if (rest) { ctx.font = big; ctx.fillText(rest, x, 0); }
        ctx.restore();
      }
    }
  };
}

const TICK_FONT = {size: 54, lineHeight: 1};
const TITLE_FONT = {size: 56, lineHeight: 1};
const baseOpts = {
  responsive: false, devicePixelRatio: 1, animation: false, events: [],
  plugins: {legend: {display: false}, tooltip: {enabled: false}}
};
function xHidden(bottomGap) {
  return {
    type: 'linear', min: timeMin, max: timeMax,
    grid: {display: false, drawTicks: false}, border: {display: false},
    ticks: {display: false},
    afterFit: s => { s.height = bottomGap; }
  };
}
const thinGap = ctx => (ctx.p1.parsed.x - ctx.p0.parsed.x > 0.052 ? 1.6 : 10);

// ---------------- chart 1: CO2 ----------------
new Chart(document.getElementById('c1'), {
  type: 'scatter',
  data: {
    datasets: [
      {label: 'Lidar meas.', data: pts(lidarCO2), pointRadius: 4.2, pointBackgroundColor: '#ff0000', pointBorderWidth: 0, showLine: false},
      {label: 'Avocet calc.', data: pts(avocetCO2), showLine: true, borderColor: '#000', borderWidth: 2.6, pointRadius: 0},
      {label: 'ref', data: [{x: timeMin, y: co2Reference}, {x: timeMax, y: co2Reference}], showLine: true, borderColor: '#000', borderWidth: 3, borderDash: [22, 14], pointRadius: 0}
    ]
  },
  options: Object.assign({}, baseOpts, {
    layout: {padding: {top: 88, right: 168, left: 0, bottom: 0}},
    scales: {
      x: xHidden(2025 - 359),
      y: {
        type: 'linear', min: 350, max: 410,
        grid: {display: false, drawTicks: false}, border: {display: false},
        afterBuildTicks: fixedTicks(co2TickValues),
        ticks: {font: TICK_FONT, padding: 10, autoSkip: false, callback: labelFrom(co2TickValues, co2TickLabels)},
        afterFit: s => { s.width = 194; }
      }
    }
  }),
  plugins: [
    makeFrame({xMarks: timeMarks, yMarks: co2Marks, mirrorY: true}),
    makeLegend({box: {x: 1695, y: 100, w: 340, h: 114}, items: [
      {dot: 1752, r: 5, y: 131, color: '#ff0000', text: 'Lidar meas.', tx: 1803, ty: 133, size: 41},
      {line: [1712, 1792], lineWidth: 2.6, y: 184, color: '#000', text: 'Avocet calc.', tx: 1801, ty: 186, size: 41}
    ]}),
    makeVTitles([{x: 44, y: 228, size: 56, subSize: 40, subDrop: 18, main: 'CO', sub: '2', rest: ' Conc. (ppm)'}])
  ]
});

// ---------------- chart 2: DOD / Range / Ground ----------------
new Chart(document.getElementById('c2'), {
  type: 'scatter',
  data: {
    datasets: [
      {label: 'DOD', data: pts(dodPk50), yAxisID: 'y', showLine: true, borderColor: '#ff0000', borderWidth: 1.5, pointRadius: 3.3, pointBackgroundColor: '#ff0000', pointBorderWidth: 0},
      {label: 'Range', data: pts(rangeKm), yAxisID: 'y2', showLine: true, borderColor: '#0000ff', borderWidth: 1.5, pointRadius: 3.3, pointBackgroundColor: '#0000ff', pointBorderWidth: 0},
      {label: 'Ground El. (10x)', data: pts(groundElev10x), yAxisID: 'y', showLine: true, borderColor: '#008000', borderWidth: 2.6, pointRadius: 0}
    ]
  },
  options: Object.assign({}, baseOpts, {
    layout: {padding: {top: 382, right: 0, left: 0, bottom: 0}},
    scales: {
      x: xHidden(2025 - 1431),
      y: {
        type: 'linear', position: 'left', min: 0, max: 2.147,
        grid: {display: false, drawTicks: false}, border: {display: false},
        afterBuildTicks: fixedTicks(dodTickValues),
        ticks: {font: TICK_FONT, padding: 10, autoSkip: false, callback: labelFrom(dodTickValues, dodTickLabels)},
        title: {display: true, text: 'DOD', font: TITLE_FONT, padding: {top: 36, bottom: 0}},
        afterFit: s => { s.width = 194; }
      },
      y2: {
        type: 'linear', position: 'right', min: -0.48, max: 22.02,
        grid: {display: false, drawTicks: false}, border: {display: false},
        afterBuildTicks: fixedTicks(kmTickValues),
        ticks: {font: TICK_FONT, padding: 11, color: '#0000ff', autoSkip: false, callback: labelFrom(kmTickValues, kmTickLabels)},
        afterFit: s => { s.width = 168; }
      }
    }
  }),
  plugins: [
    makeFrame({xMarks: timeMarks, yMarks: dodTickValues, mirrorY: false, y2Marks: kmMarks, rightColor: '#0000ff'}),
    makeLegend({box: {x: 207, y: 395, w: 361, h: 152}, items: [
      {line: [224, 304], lineWidth: 1.5, dot: 264, r: 3.5, y: 429, color: '#ff0000', text: 'DOD', tx: 314, ty: 414, size: 34, sub: 'pk,50', subSize: 25, subY: 436},
      {line: [224, 304], lineWidth: 1.5, dot: 264, r: 3.5, y: 479, color: '#0000ff', text: 'Range', tx: 314, ty: 481, size: 34},
      {line: [224, 304], lineWidth: 2.6, y: 523, color: '#008000', text: 'Ground El. (10x)', tx: 314, ty: 524, size: 34}
    ]}),
    makeVTitles([{x: 2174, y: 906, size: 57, main: 'Distance (km)', color: '#0000ff'}])
  ]
});

// ---------------- chart 3: Latitude / Longitude ----------------
new Chart(document.getElementById('c3'), {
  type: 'scatter',
  data: {
    datasets: [
      {label: 'Longitude', data: pts(longitudeDeg), yAxisID: 'y2', showLine: true, borderColor: '#ff0000', borderWidth: 10, borderCapStyle: 'round', borderJoinStyle: 'round', pointRadius: 0, segment: {borderWidth: thinGap}},
      {label: 'Latitude', data: pts(latitudeDeg), yAxisID: 'y', showLine: true, borderColor: '#000', borderWidth: 10, borderCapStyle: 'round', borderJoinStyle: 'round', pointRadius: 0, segment: {borderWidth: thinGap}}
    ]
  },
  options: Object.assign({}, baseOpts, {
    layout: {padding: {top: 1474, right: 0, left: 0, bottom: 0}},
    scales: {
      x: {
        type: 'linear', min: timeMin, max: timeMax,
        grid: {display: false, drawTicks: false}, border: {display: false},
        afterBuildTicks: fixedTicks(timeTickValues),
        ticks: {font: TICK_FONT, padding: 20, autoSkip: false, maxRotation: 0, callback: labelFrom(timeTickValues, timeTickLabels)},
        title: {display: true, text: 'Time (UTC hours)', font: TITLE_FONT, padding: {top: 0, bottom: 3}},
        afterFit: s => { s.height = 2025 - 1893; }
      },
      y: {
        type: 'linear', position: 'left', min: 39, max: 43,
        grid: {display: false, drawTicks: false}, border: {display: false},
        afterBuildTicks: fixedTicks(latTickValues),
        ticks: {font: TICK_FONT, padding: 10, autoSkip: false, callback: labelFrom(latTickValues, latTickLabels)},
        title: {display: true, text: 'Latitude', font: TITLE_FONT, padding: {top: 54, bottom: 0}},
        afterFit: s => { s.width = 194; }
      },
      y2: {
        type: 'linear', position: 'right', min: -94, max: -90,
        grid: {display: false, drawTicks: false}, border: {display: false},
        afterBuildTicks: fixedTicks(lonTickValues),
        ticks: {font: TICK_FONT, padding: 10, color: '#ff0000', autoSkip: false, callback: labelFrom(lonTickValues, lonTickLabels)},
        afterFit: s => { s.width = 168; }
      }
    }
  }),
  plugins: [
    makeFrame({xMarks: timeMarks, yMarks: latTickValues, mirrorY: false, y2Marks: lonTickValues, rightColor: '#ff0000'}),
    makeVTitles([{x: 2206, y: 1684, size: 57, main: 'Longitude', color: '#ff0000'}])
  ]
});
</script>
</body></html>
